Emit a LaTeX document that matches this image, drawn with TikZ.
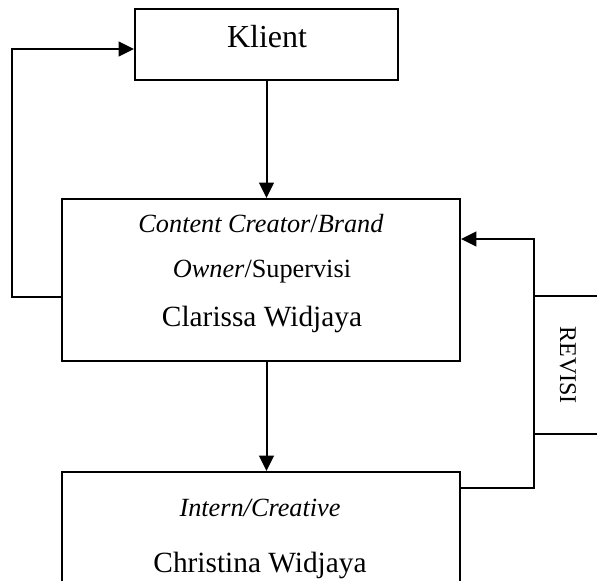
\documentclass[tikz,border=0pt]{standalone}
\usepackage{fontspec}
\setmainfont{Liberation Serif}
\usetikzlibrary{arrows.meta}
\begin{document}
\begin{tikzpicture}[x=0.75pt,y=-0.75pt,
  boxstyle/.style={draw,line width=1.5pt,rectangle,inner sep=0pt},
  conn/.style={line width=1.5pt},
  arr/.style={conn,-{Triangle[length=11.5pt,width=11pt]}},
  big/.style={inner sep=0pt,anchor=base,font=\fontsize{22}{26}\selectfont},
  bigger/.style={inner sep=0pt,anchor=base,font=\fontsize{24}{28}\selectfont},
  small/.style={inner sep=0pt,anchor=base,font=\fontsize{19.7}{24}\selectfont},
  rev/.style={inner sep=0pt,font=\fontsize{18}{22}\selectfont,rotate=-90}]
\useasboundingbox (0,0) rectangle (597,581);
\clip (0,0) rectangle (597,581);
% boxes
\node[boxstyle,minimum width=263*0.75pt,minimum height=71*0.75pt] (klient) at (266.5,44.5) {};
\node[boxstyle,minimum width=398*0.75pt,minimum height=162*0.75pt] (content) at (261,280) {};
\node[boxstyle,minimum width=398*0.75pt,minimum height=168*0.75pt] (intern) at (261,556) {};
\node[boxstyle,minimum width=106*0.75pt,minimum height=138*0.75pt] (revisi) at (587,365) {};
% texts
\node[bigger] (tklient) at (267,48) {Klient};
\node[small] (tc1) at (261,233) {\textit{Content Creator}/\textit{Brand}};
\node[small] (tc2) at (262,278) {\textit{Owner}/Supervisi};
\node[big] (tc3) at (262,327) {Clarissa Widjaya};
\node[small] (ti1) at (260,516) {\textit{Intern/Creative}};
\node[big] (ti2) at (260,572) {Christina Widjaya};
\node[rev] (trev) at (568,365) {REVISI};
% coordinates
\coordinate (fbl) at (12,297);
\coordinate (fbt) at (12,49);
\coordinate (rvb) at (534,488);
\coordinate (rvt) at (534,239);
% connectors
\draw[arr] (klient.south) -- (klient.south |- content.north);
\draw[arr] (klient.south |- content.south) -- (klient.south |- intern.north);
\draw[arr] (content.west |- fbl) -- (fbl) -- (fbt) -- (klient.west |- fbt);
\draw[arr] (intern.east |- rvb) -- (rvb) -- (rvt) -- (content.east |- rvt);
\end{tikzpicture}
\end{document}
